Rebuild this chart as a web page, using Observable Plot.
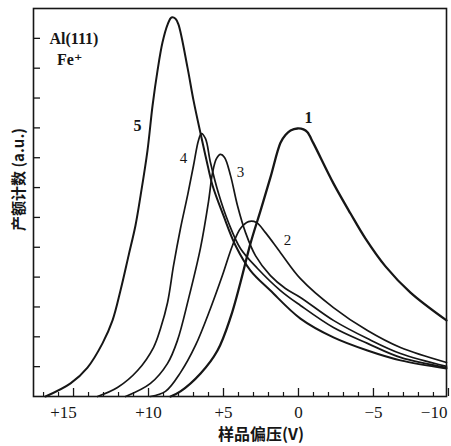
<!DOCTYPE html>
<html><head><meta charset="utf-8">
<script src="https://cdn.jsdelivr.net/npm/d3@7"></script>
<script src="https://cdn.jsdelivr.net/npm/@observablehq/plot@0.6"></script>
<style>body{margin:0;background:#fff}</style>
</head><body><div id="chart"></div>
<script>
// Sample bias (V) vs. yield (a.u.)
const curve1 = [[8.53,0],[7.87,0.17],[6.53,0.77],[5.4,1.54],[4.53,2.65],[3.87,3.82],[3.2,5.13],[2.53,6.23],[1.87,7.34],[1.2,8.5],[0.87,8.76],[0.53,8.91],[0.07,8.98],[-0.33,8.95],[-0.6,8.85],[-1.0,8.48],[-2.33,7.14],[-3.47,6.13],[-4.47,5.29],[-5.8,4.36],[-7.47,3.48],[-9.87,2.55]];
const curve2 = [[9.87,0],[8.87,0.17],[7.87,0.8],[6.87,1.71],[5.87,2.95],[5.07,4.06],[4.4,5.06],[3.87,5.63],[3.33,5.86],[2.8,5.83],[2.2,5.49],[1.2,4.82],[-0.13,3.95],[-2.33,2.98],[-4.6,2.21],[-6.8,1.64],[-9.87,1.14]];
const curve3 = [[11.53,0],[9.87,0.44],[8.73,1.11],[8.07,1.88],[7.33,3.28],[6.53,4.99],[6.0,6.53],[5.73,7.5],[5.47,7.97],[5.2,8.11],[4.93,8.01],[4.53,7.4],[4.07,6.4],[3.53,5.49],[2.87,4.72],[1.87,4.05],[0.87,3.62],[-0.13,3.32],[-2.33,2.55],[-4.6,1.94],[-6.8,1.44],[-9.87,1.01]];
const curve4 = [[13.4,0],[12.07,0.3],[10.73,0.87],[9.67,1.64],[9.2,2.28],[8.73,3.15],[8.33,4.39],[7.87,5.63],[7.4,6.73],[7.0,7.74],[6.67,8.58],[6.47,8.81],[6.2,8.64],[5.87,7.84],[5.33,6.8],[4.67,5.83],[3.87,4.96],[2.73,4.29],[1.2,3.55],[-0.13,3.05],[-2.33,2.31],[-4.6,1.78],[-6.8,1.31],[-9.87,0.97]];
const curve5 = [[16.87,0],[15.2,0.44],[14.07,0.97],[13.07,1.78],[12.4,2.55],[11.87,3.55],[11.33,4.72],[10.87,5.73],[10.53,6.73],[10.07,8.24],[9.73,9.75],[9.4,10.92],[9.07,11.86],[8.73,12.46],[8.47,12.7],[8.2,12.66],[8.0,12.46],[7.4,11.02],[7.0,9.92],[6.53,8.81],[6.13,7.91],[5.73,7.07],[5.0,6.06],[4.2,5.06],[3.2,4.22],[1.87,3.55],[-0.13,2.61],[-2.33,1.98],[-4.6,1.54],[-6.8,1.21],[-9.87,0.94]];

const xMajor = [15, 10, 5, 0, -5, -10];
const xLabels = ["+15", "+10", "+5", "0", "−5", "−10"];
const xMinor = d3.range(-9, 18).filter(d => d % 5 !== 0);
const yTicks = d3.range(1, 13);
const curveNames = ["1", "2", "3", "4", "5"];
const boldNames = ["1", "5"];
const legendLines = ["Al(111)", "Fe⁺"];
const yTitle = "产额计数 (a.u.)";
const xTitle = "样品偏压(V)";

// label positions (data units)
const curveLabelPos = {"1": [-0.67, 9.35], "2": [0.73, 5.23], "3": [3.87, 7.5], "4": [7.67, 8.0], "5": [10.73, 9.08]};
const legendPos = [[16.6, 11.99], [16.1, 11.29]];
const yTitlePos = [18.6, 7.27];
const xTitlePos = [2.5, 0];

const serif = "Liberation Serif, DejaVu Serif, serif";
const cjk = "Noto Sans CJK SC, sans-serif";
const ink = "#161616";

const series = [curve1, curve2, curve3, curve4, curve5];
const widths = [2.3, 1.7, 1.7, 1.7, 2.0];

const lineMarks = series.map((c, i) => Plot.line(c, {
  x: d => d[0], y: d => d[1], curve: "catmull-rom",
  stroke: ink, strokeWidth: widths[i], strokeLinejoin: "round"
}));

const tickText = {fontSize: 17, fontFamily: serif, fill: ink, y: 0, dy: 16, x: d => d, text: d => xLabels[xMajor.indexOf(d)]};

const chart = Plot.plot({
  width: 451, height: 446,
  marginLeft: 33, marginRight: 5, marginTop: 8, marginBottom: 50,
  style: {background: "#fff", overflow: "visible"},
  x: {domain: [17.67, -9.87], axis: null},
  y: {domain: [0, 13], axis: null},
  marks: [
    Plot.axisX(xMinor, {anchor: "bottom", tickSize: -4, tickFormat: () => "", stroke: ink, strokeWidth: 1.2}),
    Plot.axisX(xMajor, {anchor: "bottom", tickSize: -8, tickFormat: () => "", stroke: ink, strokeWidth: 1.3}),
    Plot.axisY(yTicks, {anchor: "left", tickSize: -7, tickFormat: () => "", stroke: ink, strokeWidth: 1.3}),
    Plot.text(xMajor.slice(1, 5), {...tickText}),
    Plot.text([15], {...tickText, dx: -10}),
    Plot.text([-10], {...tickText, dx: -1, textAnchor: "end"}),
    Plot.text([xTitle], {x: xTitlePos[0], y: xTitlePos[1], dy: 38, text: d => d, fontSize: 16, fontWeight: "bold", fontFamily: cjk, fill: ink}),
    Plot.text([yTitle], {x: yTitlePos[0], y: yTitlePos[1], text: d => d, rotate: -90, fontSize: 15, fontWeight: "bold", fontFamily: cjk, fill: ink}),
    Plot.text(legendLines, {x: (d, i) => legendPos[i][0], y: (d, i) => legendPos[i][1], text: d => d, textAnchor: "start", fontSize: 16, fontWeight: "bold", fontFamily: serif, fill: ink}),
    Plot.text(curveNames.filter(d => !boldNames.includes(d)), {x: d => curveLabelPos[d][0], y: d => curveLabelPos[d][1], text: d => d, fontSize: 15, fontFamily: serif, fill: ink}),
    Plot.text(boldNames, {x: d => curveLabelPos[d][0], y: d => curveLabelPos[d][1], text: d => d, fontSize: 16, fontWeight: "bold", fontFamily: serif, fill: ink}),
    ...lineMarks,
    Plot.frame({stroke: ink, strokeWidth: 1.6})
  ]
});
document.getElementById("chart").appendChild(chart);
</script>
</body></html>
